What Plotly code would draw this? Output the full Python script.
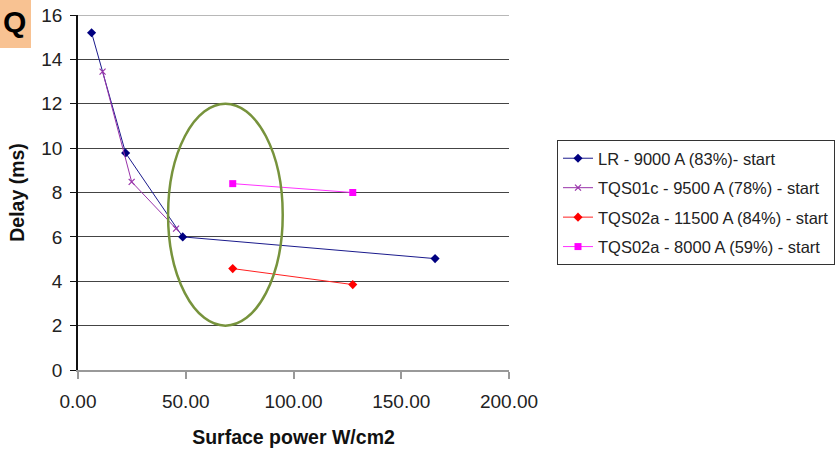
import plotly.graph_objects as go

# Data
lr_x = [6.3, 22.1, 48.6, 165.7]
lr_y = [15.2, 9.78, 6.0, 5.02]

tqs01c_x = [11.4, 24.9, 45.5]
tqs01c_y = [13.45, 8.48, 6.37]

tqs02a_11500_x = [71.8, 127.5]
tqs02a_11500_y = [4.57, 3.85]

tqs02a_8000_x = [71.8, 127.5]
tqs02a_8000_y = [8.4, 8.0]

series_names = [
    "LR - 9000 A (83%)- start",
    "TQS01c - 9500 A (78%) - start",
    "TQS02a - 11500 A (84%) - start",
    "TQS02a - 8000 A (59%) - start",
]

x_ticks = [0, 50, 100, 150, 200]
y_ticks = [0, 2, 4, 6, 8, 10, 12, 14, 16]

FONT = "Liberation Sans, Arial, sans-serif"

L, R, T, B = 78, 509, 15, 370
PW, PH = R - L, B - T

fig = go.Figure()

fig.add_trace(go.Scatter(
    x=lr_x, y=lr_y, mode="lines+markers", name=series_names[0],
    line=dict(color="#1a1a8c", width=1),
    marker=dict(symbol="diamond", size=7, color="#000080"),
    legendgroup="a",
))
fig.add_trace(go.Scatter(
    x=tqs01c_x, y=tqs01c_y, mode="lines+markers", name=series_names[1],
    line=dict(color="#9933aa", width=1),
    marker=dict(symbol="x-thin", size=6, color="#9933aa",
                line=dict(color="#9933aa", width=1.2)),
    legendgroup="b",
))
fig.add_trace(go.Scatter(
    x=tqs02a_11500_x, y=tqs02a_11500_y, mode="lines+markers", name=series_names[2],
    line=dict(color="#ff2020", width=1),
    marker=dict(symbol="diamond", size=7, color="#ff0000"),
    legendgroup="c",
))
fig.add_trace(go.Scatter(
    x=tqs02a_8000_x, y=tqs02a_8000_y, mode="lines+markers", name=series_names[3],
    line=dict(color="#ff33ff", width=1),
    marker=dict(symbol="square", size=7, color="#ff00ff"),
    legendgroup="d",
))

# lighter top gridline as in the reference
fig.add_shape(type="line", xref="paper", yref="y", x0=0, x1=1, y0=16, y1=16,
              line=dict(color="#a0a0a0", width=1.6), layer="above")

# Green ellipse highlight
fig.add_shape(type="circle", xref="x", yref="y",
              x0=41.8, x1=95.0, y0=2.0, y1=12.0,
              line=dict(color="#77933C", width=2.5))

# Orange box with "Q" in the top-left corner
fig.add_shape(type="rect", xref="paper", yref="paper",
              x0=(0 - L) / PW, x1=(31 - L) / PW,
              y0=(B - 48) / PH, y1=(B + 2) / PH,
              fillcolor="#F8C292", line=dict(width=0), layer="below")
fig.add_annotation(xref="paper", yref="paper", x=(1 - L) / PW, y=(B - 22) / PH,
                   text="<b>Q</b>", showarrow=False, xanchor="left", yanchor="middle",
                   font=dict(family=FONT, size=30, color="black"))

fig.update_layout(
    width=836, height=450,
    margin=dict(l=L, r=836 - R, t=T, b=450 - B, autoexpand=False),
    paper_bgcolor="white", plot_bgcolor="white",
    font=dict(family=FONT, size=16, color="#222"),
    showlegend=True,
    legend=dict(
        x=(557 - L) / PW, y=(B - 140) / PH, xanchor="left", yanchor="top",
        bordercolor="#333", borderwidth=1,
        font=dict(family=FONT, size=16.5, color="#222"),
        traceorder="grouped", tracegroupgap=5,
        bgcolor="white",
    ),
)

fig.update_xaxes(
    range=[0, 200], tickvals=x_ticks, tickformat=".2f", automargin=False,
    showgrid=False, zeroline=False,
    showline=True, linecolor="#999", linewidth=1.5,
    ticks="outside", ticklen=7, tickcolor="#999", tickwidth=1.5,
    title=dict(text="<b>Surface power W/cm2</b>", font=dict(family=FONT, size=19.5, color="#111"), standoff=20),
    tickfont=dict(family=FONT, size=19, color="#222"),
    ticklabelstandoff=6,
)
fig.update_yaxes(
    range=[0, 16], tickvals=y_ticks, automargin=False,
    showgrid=True, gridcolor="#444", gridwidth=1.2, zeroline=False,
    showline=True, linecolor="#111", linewidth=1.5,
    ticks="outside", ticklen=6, tickcolor="#111", tickwidth=1.2,
    title=dict(text="<b>Delay (ms)</b>", font=dict(family=FONT, size=19.5, color="#111"), standoff=11),
    tickfont=dict(family=FONT, size=19, color="#222"),
    ticklabelstandoff=4,
)

fig.write_html("out.html",
               config={"displayModeBar": False},
               post_script="document.body.style.margin='0';document.body.style.padding='0';")
